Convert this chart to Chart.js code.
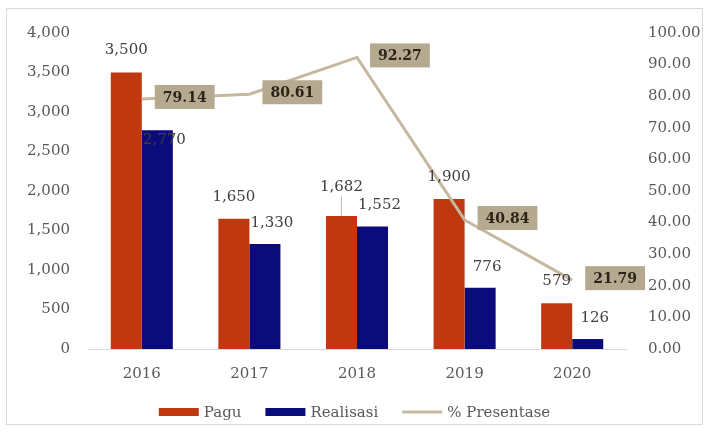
<!DOCTYPE html>
<html>
<head>
<meta charset="utf-8">
<script src="https://cdn.jsdelivr.net/npm/chart.js@4.4.1/dist/chart.umd.min.js"></script>
<style>
  html, body { margin: 0; padding: 0; background: #fff; }
  #frame { position: absolute; left: 6px; top: 8px; width: 697px; height: 417px;
           border: 1px solid #d9d9d9; box-sizing: border-box; pointer-events: none; }
  #chart { position: absolute; left: 6px; top: 8px; }
</style>
</head>
<body>
<canvas id="chart" width="697" height="417"></canvas>
<div id="frame"></div>
<script>
// data
const years = ['2016', '2017', '2018', '2019', '2020'];
const pagu = [3500, 1650, 1682, 1900, 579];
const realisasi = [2770, 1330, 1552, 776, 126];
const presentase = [79.14, 80.61, 92.27, 40.84, 21.79];

const FONT = "'DejaVu Serif', 'Liberation Serif', serif";
const COL_PAGU = '#bf380f';
const COL_REAL = '#0b0b7c';
const COL_LINE = '#c6b89e';

// label drawing: values above bars, tan boxes beside the line points
const labelPlugin = {
    id: 'valueLabels',
    afterDatasetsDraw(chart) {
        const ctx = chart.ctx;
        ctx.save();
        ctx.font = '15px ' + FONT;
        ctx.fillStyle = '#404040';
        ctx.textAlign = 'center';
        ctx.textBaseline = 'middle';

        const mPagu = chart.getDatasetMeta(0);
        mPagu.data.forEach((bar, i) => {
            const dy = i === 2 ? -29 : -22;
            ctx.fillText(pagu[i].toLocaleString('en-US'), bar.x, bar.y + dy);
            if (i === 2) {
                ctx.strokeStyle = '#bfbfbf';
                ctx.lineWidth = 1;
                ctx.beginPath();
                ctx.moveTo(bar.x, bar.y + dy + 9);
                ctx.lineTo(bar.x, bar.y);
                ctx.stroke();
            }
        });

        const mReal = chart.getDatasetMeta(1);
        mReal.data.forEach((bar, i) => {
            const dy = i === 0 ? 10 : -21;
            ctx.fillText(realisasi[i].toLocaleString('en-US'), bar.x + 7, bar.y + dy);
        });

        const mLine = chart.getDatasetMeta(2);
        ctx.font = 'bold 14px ' + FONT;
        mLine.data.forEach((pt, i) => {
            const txt = presentase[i].toFixed(2);
            const w = ctx.measureText(txt).width + 16;
            const h = 24;
            const left = pt.x + 13;
            const cy = pt.y - 2;
            ctx.fillStyle = '#b5a98f';
            ctx.fillRect(left, cy - h / 2, w, h);
            ctx.fillStyle = '#2b2418';
            ctx.fillText(txt, left + w / 2, cy + 1);
        });
        ctx.restore();
    }
};

// legend drawn by hand so it can sit low in the frame
const legendPlugin = {
    id: 'bottomLegend',
    afterDraw(chart) {
        const ctx = chart.ctx;
        const items = [
            { text: 'Pagu', color: COL_PAGU, kind: 'box' },
            { text: 'Realisasi', color: COL_REAL, kind: 'box' },
            { text: '% Presentase', color: COL_LINE, kind: 'line' }
        ];
        const sw = 40, gapText = 5, gapItem = 24, y = 404;
        ctx.save();
        ctx.font = '15px ' + FONT;
        ctx.textBaseline = 'middle';
        let total = 0;
        items.forEach((it, i) => {
            it.w = ctx.measureText(it.text).width;
            total += sw + gapText + it.w + (i ? gapItem : 0);
        });
        let x = chart.width / 2 - total / 2;
        items.forEach(it => {
            ctx.fillStyle = it.color;
            if (it.kind === 'box') ctx.fillRect(x, y - 4, sw, 8);
            else ctx.fillRect(x, y - 1.5, sw, 3);
            ctx.fillStyle = '#595959';
            ctx.fillText(it.text, x + sw + gapText, y + 1);
            x += sw + gapText + it.w + gapItem;
        });
        ctx.restore();
    }
};

const tickFont = { family: FONT, size: 15 };

// keep the tick padding from pushing the plot area down
function fitVertical(width) {
    return scale => {
        scale.width = width;
        scale.paddingTop = 9;
        scale.paddingBottom = 9;
    };
}

new Chart(document.getElementById('chart').getContext('2d'), {
    type: 'bar',
    data: {
        labels: years,
        datasets: [
            { label: 'Pagu', data: pagu, backgroundColor: COL_PAGU, yAxisID: 'y', order: 1,
              categoryPercentage: 0.577, barPercentage: 1.0 },
            { label: 'Realisasi', data: realisasi, backgroundColor: COL_REAL, yAxisID: 'y', order: 1,
              categoryPercentage: 0.577, barPercentage: 1.0 },
            { type: 'line', label: '% Presentase', data: presentase, yAxisID: 'y1', order: 0,
              borderColor: COL_LINE, borderWidth: 3, pointRadius: 0, tension: 0, fill: false }
        ]
    },
    options: {
        responsive: false,
        animation: false,
        devicePixelRatio: 1,
        layout: { padding: { top: 25, bottom: 36, left: 0, right: 0 } },
        plugins: { legend: { display: false }, tooltip: { enabled: false } },
        scales: {
            x: {
                grid: { display: false, drawTicks: false },
                border: { display: true, color: '#d9d9d9', width: 1 },
                ticks: { font: tickFont, color: '#595959', padding: 16 },
                afterFit(scale) { scale.height = 40; }
            },
            y: {
                position: 'left',
                min: 0, max: 4000,
                grid: { display: false, drawTicks: false },
                border: { display: false },
                ticks: { stepSize: 500, font: tickFont, color: '#595959', padding: 18,
                         callback: v => v.toLocaleString('en-US') },
                afterFit: fitVertical(82)
            },
            y1: {
                position: 'right',
                min: 0, max: 100,
                grid: { display: false, drawTicks: false },
                border: { display: false },
                ticks: { stepSize: 10, font: tickFont, color: '#595959', padding: 22,
                         callback: v => v.toFixed(2) },
                afterFit: fitVertical(77)
            }
        }
    },
    plugins: [labelPlugin, legendPlugin]
});
</script>
</body>
</html>
